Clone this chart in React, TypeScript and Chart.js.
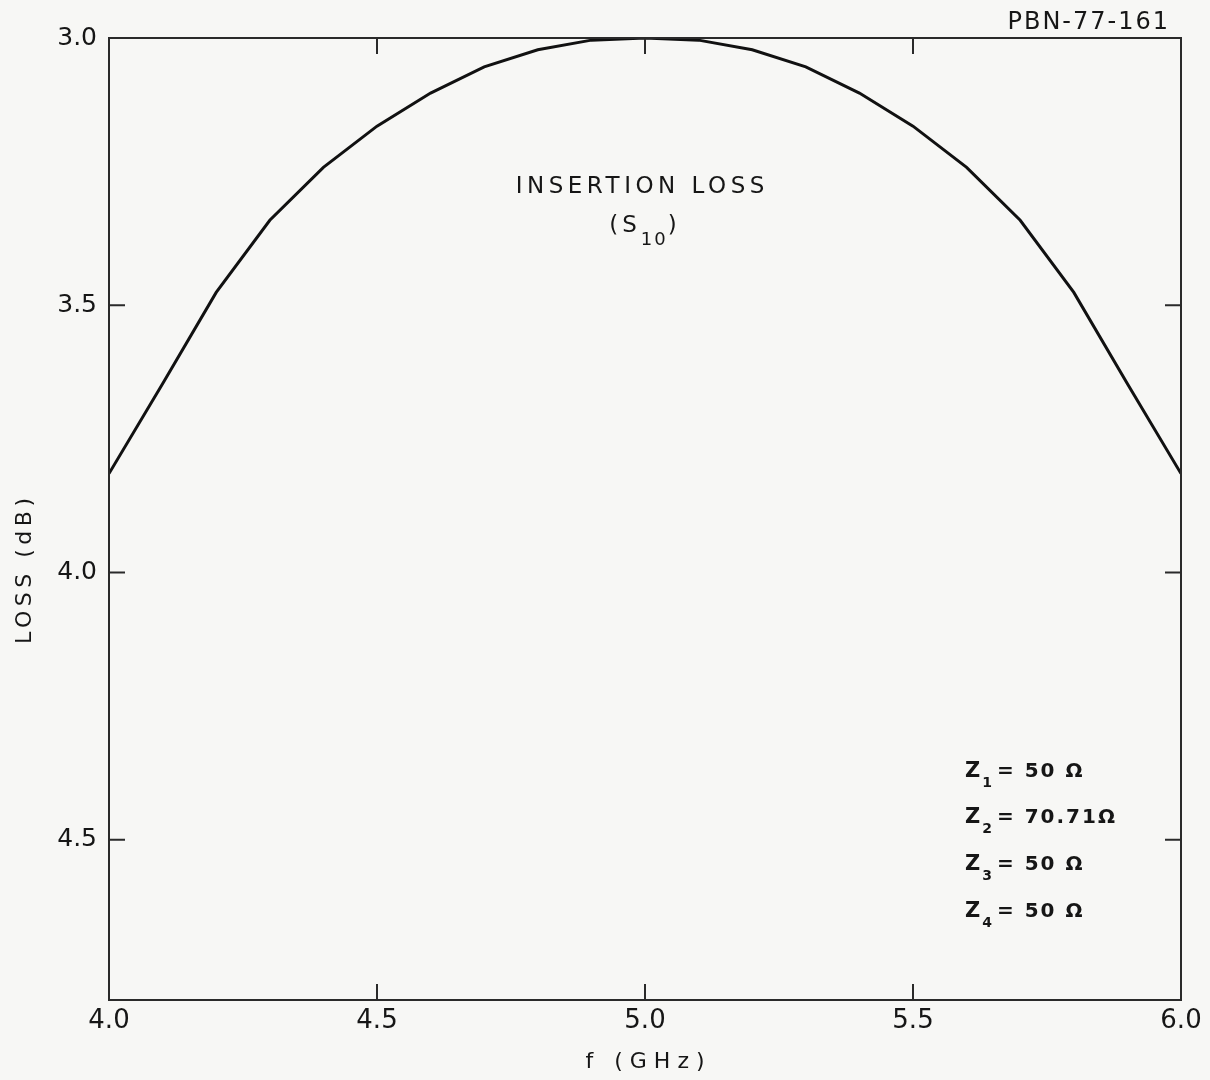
import { useEffect, useRef } from "react";
import { Chart, registerables } from "chart.js";

Chart.register(...registerables);

// ---- data ----
const freqGHz = [4.0, 4.1, 4.2, 4.3, 4.4, 4.5, 4.6, 4.7, 4.8, 4.9, 5.0, 5.1, 5.2, 5.3, 5.4, 5.5, 5.6, 5.7, 5.8, 5.9, 6.0];
const lossDb = [3.815, 3.647, 3.476, 3.341, 3.242, 3.165, 3.103, 3.054, 3.022, 3.004, 3.0, 3.004, 3.022, 3.054, 3.103, 3.165, 3.242, 3.341, 3.476, 3.647, 3.815];
const xTicks = [4.0, 4.5, 5.0, 5.5, 6.0];
const yTicks = [3.0, 3.5, 4.0, 4.5];
const xMin = 4.0;
const xMax = 6.0;
const yMin = 3.0;
const yMax = 4.8;
const xTitle = "f (GHz)";
const yTitle = "LOSS (dB)";
const figureId = "PBN-77-161";
const curveTitle = "INSERTION LOSS";
const curveSubBase = "S";
const curveSub = "10";
const zNames = ["1", "2", "3", "4"];
const zValues = ["50 Ω", "70.71Ω", "50 Ω", "50 Ω"];

const FONT = "'DejaVu Sans', sans-serif";
const INK = "#161616";
const BG = "#f7f7f5";

function spacedText(ctx: CanvasRenderingContext2D, text: string, x: number, y: number, spacing: number, align: "left" | "center" | "right") {
  (ctx as any).letterSpacing = spacing + "px";
  const w = ctx.measureText(text).width - spacing;
  let sx = x;
  if (align === "center") sx = x - w / 2;
  else if (align === "right") sx = x - w;
  ctx.textAlign = "left";
  ctx.fillText(text, sx, y);
  (ctx as any).letterSpacing = "0px";
}

const decorPlugin = {
  id: "decor",
  beforeDraw(chart: any) {
    const ctx = chart.ctx as CanvasRenderingContext2D;
    ctx.save();
    ctx.fillStyle = BG;
    ctx.fillRect(0, 0, chart.width, chart.height);
    ctx.restore();
  },
  afterDraw(chart: any) {
    const ctx = chart.ctx as CanvasRenderingContext2D;
    const { left, right, top, bottom } = chart.chartArea;
    const xs = chart.scales.x;
    const ys = chart.scales.y;
    ctx.save();
    // frame
    ctx.strokeStyle = "#2a2a2a";
    ctx.lineWidth = 2;
    ctx.strokeRect(left, top, right - left, bottom - top);
    // inner ticks
    const tl = 16;
    ctx.beginPath();
    xTicks.forEach((v) => {
      if (v === xMin || v === xMax) return;
      const px = xs.getPixelForValue(v);
      ctx.moveTo(px, bottom);
      ctx.lineTo(px, bottom - tl);
      ctx.moveTo(px, top);
      ctx.lineTo(px, top + tl);
    });
    yTicks.forEach((v) => {
      if (v === yMin || v === yMax) return;
      const py = ys.getPixelForValue(v);
      ctx.moveTo(left, py);
      ctx.lineTo(left + tl, py);
      ctx.moveTo(right, py);
      ctx.lineTo(right - tl, py);
    });
    ctx.stroke();

    ctx.fillStyle = INK;
    ctx.textBaseline = "middle";

    // figure id
    ctx.font = `24px ${FONT}`;
    spacedText(ctx, figureId, 1168, 23, 2, "right");

    // curve title
    ctx.font = `23px ${FONT}`;
    spacedText(ctx, curveTitle, 640, 187, 4.5, "center");

    // (S10)
    const bigF = `23px ${FONT}`;
    const smallF = `18px ${FONT}`;
    ctx.font = bigF;
    (ctx as any).letterSpacing = "4px";
    const wOpen = ctx.measureText("(" + curveSubBase).width;
    const wClose = ctx.measureText(")").width;
    ctx.font = smallF;
    (ctx as any).letterSpacing = "2px";
    const wSub = ctx.measureText(curveSub).width;
    const total = wOpen + wSub + wClose;
    let sx = 645 - total / 2;
    ctx.textAlign = "left";
    ctx.font = bigF;
    (ctx as any).letterSpacing = "4px";
    ctx.fillText("(" + curveSubBase, sx, 226);
    sx += wOpen;
    ctx.font = smallF;
    (ctx as any).letterSpacing = "2px";
    ctx.fillText(curveSub, sx, 240);
    sx += wSub;
    ctx.font = bigF;
    ctx.fillText(")", sx, 226);
    (ctx as any).letterSpacing = "0px";

    // impedance labels
    const rows = [772, 818, 865, 912];
    zNames.forEach((n, i) => {
      const y = rows[i];
      let x = 965;
      ctx.font = `bold 21px ${FONT}`;
      ctx.fillText("Z", x, y);
      x += ctx.measureText("Z").width + 2;
      ctx.font = `bold 14px ${FONT}`;
      ctx.fillText(n, x, y + 11);
      x += ctx.measureText(n).width + 5;
      ctx.font = `bold 20px ${FONT}`;
      (ctx as any).letterSpacing = "2px";
      ctx.fillText("= " + zValues[i], x, y);
      (ctx as any).letterSpacing = "0px";
    });

    // axis titles
    ctx.font = `22px ${FONT}`;
    spacedText(ctx, xTitle, 645, 1062, 7, "center");
    ctx.translate(25, 571);
    ctx.rotate(-Math.PI / 2);
    spacedText(ctx, yTitle, 0, 0, 4.5, "center");
    ctx.restore();
  },
};

export default function App() {
  const ref = useRef<HTMLCanvasElement | null>(null);
  useEffect(() => {
    if (!ref.current) return;
    const chart = new Chart(ref.current, {
      type: "line",
      data: {
        datasets: [
          {
            data: freqGHz.map((f, i) => ({ x: f, y: lossDb[i] })),
            borderColor: "#111",
            borderWidth: 3,
            pointRadius: 0,
            tension: 0,
            fill: false,
          },
        ],
      },
      options: {
        animation: false,
        responsive: false,
        devicePixelRatio: 1,
        layout: { padding: { top: 38, right: 29, left: 0, bottom: 0 } },
        plugins: { legend: { display: false }, tooltip: { enabled: false } },
        scales: {
          x: {
            type: "linear",
            min: xMin,
            max: xMax,
            afterBuildTicks: (s: any) => {
              s.ticks = xTicks.map((v) => ({ value: v }));
            },
            afterFit: (s: any) => {
              s.height = 80;
            },
            grid: { display: false, drawTicks: false, tickLength: 0 },
            border: { display: false },
            ticks: {
              padding: 6,
              color: INK,
              font: { family: FONT, size: 26 },
              maxRotation: 0,
              callback: (v: any) => Number(v).toFixed(1),
            },
          },
          y: {
            type: "linear",
            reverse: true,
            min: yMin,
            max: yMax,
            afterBuildTicks: (s: any) => {
              s.ticks = yTicks.map((v) => ({ value: v }));
            },
            afterFit: (s: any) => {
              s.width = 109;
            },
            grid: { display: false, drawTicks: false, tickLength: 0 },
            border: { display: false },
            ticks: {
              padding: 12,
              color: INK,
              font: { family: FONT, size: 25 },
              callback: (v: any) => Number(v).toFixed(1),
            },
          },
        },
      },
      plugins: [decorPlugin],
    } as any);
    return () => chart.destroy();
  }, []);
  return (
    <div style={{ position: "absolute", left: 0, top: 0, width: 1210, height: 1080, background: BG }}>
      <canvas ref={ref} width={1210} height={1080} style={{ display: "block" }} />
    </div>
  );
}
